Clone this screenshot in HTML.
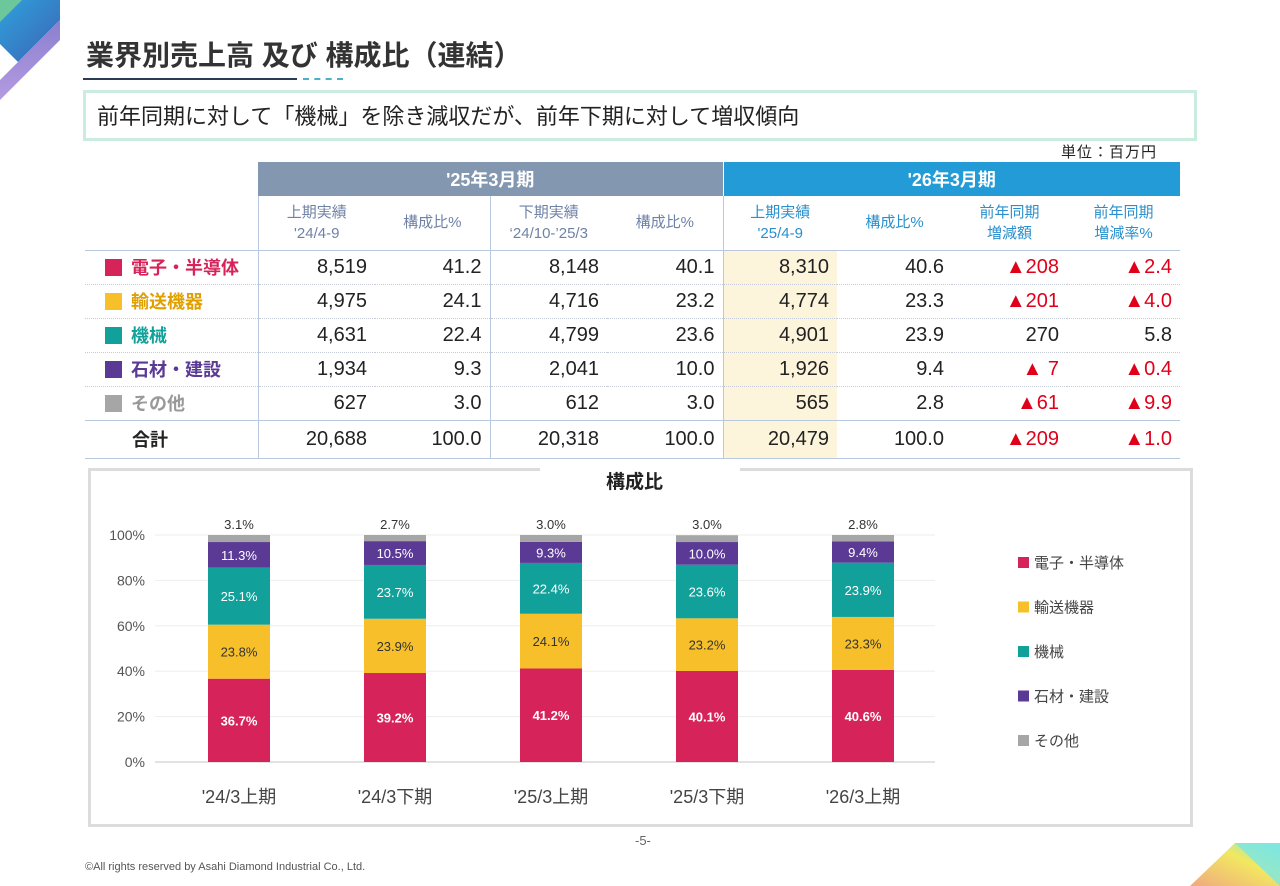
<!DOCTYPE html>
<html><head><meta charset="utf-8">
<style>
*{margin:0;padding:0;box-sizing:border-box}
body{width:1280px;height:886px;background:#fff;position:relative;overflow:hidden;font-family:"Liberation Sans","Noto Sans CJK JP",sans-serif;color:#222}
.abs{position:absolute}
table{border-collapse:collapse;table-layout:fixed;position:absolute;left:85px;top:162px}
td{font-size:20px;text-align:right;padding-right:8px;height:34px;border-bottom:1px dotted #c5ccd8}
td.l{text-align:left;padding-left:20px;font-weight:bold;font-size:18px}
.sq{display:inline-block;width:17px;height:17px;margin-right:9px;vertical-align:-2px}
.h1{color:#fff;font-weight:bold;text-align:center;font-size:18px;height:34px;padding:0;border:none}
.h2{font-size:15px;text-align:center;padding:0;height:54px;line-height:21px;border-bottom:1.5px solid #b8c8de}
.vl{border-left:1.5px solid #b8c8de}
.red{color:#e0001a}
.hl{background:#fdf4dc}
</style></head><body>
<svg class="abs" style="left:0;top:0" width="70" height="110">
<defs><linearGradient id="lg1" x1="0" y1="0" x2="1" y2="1"><stop offset="0" stop-color="#2fa0dc"/><stop offset="1" stop-color="#3c64b4"/></linearGradient>
<linearGradient id="lg2" x1="0" y1="0" x2="0" y2="1"><stop offset="0" stop-color="#8a7fd0"/><stop offset="1" stop-color="#b59be0"/></linearGradient></defs>
<polygon points="0,0 60,0 60,20 18,62 0,44" fill="url(#lg1)"/>
<polygon points="0,0 22,0 0,22" fill="#6cc79a"/>
<polygon points="18,62 60,20 60,40 0,100 0,80" fill="url(#lg2)"/>
</svg>
<div class="abs" style="left:86px;top:34px;font-size:28px;font-weight:bold;color:#333">業界別売上高 及び 構成比（連結）</div>
<div class="abs" style="left:83px;top:78px;width:214px;height:2px;background:#2b3a55"></div>
<div class="abs" style="left:303px;top:78px;width:40px;height:0;border-top:2px dashed #4bb0c8"></div>
<div class="abs" style="left:83px;top:90px;width:1114px;height:51px;border:3px solid #c9ecdf;font-size:22px;padding:6px 0 0 11px;color:#222">前年同期に対して「機械」を除き減収だが、前年下期に対して増収傾向</div>
<div class="abs" style="left:1061px;top:141px;font-size:15px;letter-spacing:1px">単位：百万円</div>

<table>
<colgroup><col style="width:173px"><col style="width:117px"><col style="width:115px"><col style="width:117px"><col style="width:116px"><col style="width:114px"><col style="width:115px"><col style="width:115px"><col style="width:113px"></colgroup>
<tr><td style="border:none"></td><td class="h1" colspan="4" style="background:#8497b0">'25年3月期</td><td class="h1" colspan="4" style="background:#229bd6;border-left:1px solid #fff">'26年3月期</td></tr>
<tr style="color:#6f82a6"><td style="border-bottom:1.5px solid #b8c8de"></td><td class="h2 vl">上期実績<br>'24/4-9</td><td class="h2">構成比%</td><td class="h2 vl">下期実績<br>‘24/10-’25/3</td><td class="h2">構成比%</td>
<td class="h2 vl" style="color:#2a8fcc">上期実績<br>'25/4-9</td><td class="h2" style="color:#2a8fcc">構成比%</td><td class="h2" style="color:#2a8fcc">前年同期<br>増減額</td><td class="h2" style="color:#2a8fcc">前年同期<br>増減率%</td></tr>
<tr><td class="l" style="color:#d6245a"><span class="sq" style="background:#d6245a"></span>電子・半導体</td><td class="vl">8,519</td><td>41.2</td><td class="vl">8,148</td><td>40.1</td><td class="vl hl">8,310</td><td>40.6</td><td class="red">▲208</td><td class="red">▲2.4</td></tr>
<tr><td class="l" style="color:#e0a000"><span class="sq" style="background:#f7c02a"></span>輸送機器</td><td class="vl">4,975</td><td>24.1</td><td class="vl">4,716</td><td>23.2</td><td class="vl hl">4,774</td><td>23.3</td><td class="red">▲201</td><td class="red">▲4.0</td></tr>
<tr><td class="l" style="color:#12a19a"><span class="sq" style="background:#12a19a"></span>機械</td><td class="vl">4,631</td><td>22.4</td><td class="vl">4,799</td><td>23.6</td><td class="vl hl">4,901</td><td>23.9</td><td>270</td><td>5.8</td></tr>
<tr><td class="l" style="color:#5b3a96"><span class="sq" style="background:#5b3a96"></span>石材・建設</td><td class="vl">1,934</td><td>9.3</td><td class="vl">2,041</td><td>10.0</td><td class="vl hl">1,926</td><td>9.4</td><td class="red">▲ 7</td><td class="red">▲0.4</td></tr>
<tr><td class="l" style="color:#999"><span class="sq" style="background:#a6a6a6"></span>その他</td><td class="vl">627</td><td>3.0</td><td class="vl">612</td><td>3.0</td><td class="vl hl">565</td><td>2.8</td><td class="red">▲61</td><td class="red">▲9.9</td></tr>
<tr style="border-top:1.5px solid #b8c8de"><td class="l" style="padding-left:47px;height:38px;border-bottom:1.5px solid #b8c8de">合計</td><td class="vl" style="border-bottom:1.5px solid #b8c8de">20,688</td><td style="border-bottom:1.5px solid #b8c8de">100.0</td><td class="vl" style="border-bottom:1.5px solid #b8c8de">20,318</td><td style="border-bottom:1.5px solid #b8c8de">100.0</td><td class="vl hl" style="border-bottom:1.5px solid #b8c8de">20,479</td><td style="border-bottom:1.5px solid #b8c8de">100.0</td><td class="red" style="border-bottom:1.5px solid #b8c8de">▲209</td><td class="red" style="border-bottom:1.5px solid #b8c8de">▲1.0</td></tr>
</table>

<div class="abs" style="left:88px;top:468px;width:1105px;height:359px;border:3px solid #dcdcdc"></div>
<div class="abs" style="left:540px;top:462px;width:200px;height:14px;background:#fff"></div>
<div class="abs" style="left:606px;top:467px;font-size:19px;font-weight:bold">構成比</div>
<svg id="chart" class="abs" style="left:0;top:0" width="1280" height="886"></svg>
<div class="abs" style="left:635px;top:833px;font-size:13px;color:#666">-5-</div>
<div class="abs" style="left:85px;top:861px;font-size:11px;color:#555">©All rights reserved by Asahi Diamond Industrial Co., Ltd.</div>
<svg class="abs" style="left:1190px;top:840px" width="90" height="46">
<defs><linearGradient id="lg3" x1="0" y1="1" x2="1" y2="0"><stop offset="0" stop-color="#f0a880"/><stop offset="0.6" stop-color="#f2e860"/><stop offset="1" stop-color="#7ee8e0"/></linearGradient></defs>
<polygon points="0,46 45,3 90,3 90,46" fill="url(#lg3)"/><polygon points="45,3 90,3 90,46" fill="#7ae6e4" opacity="0.8"/>
</svg>
<script>
const categories=["'24/3上期","'24/3下期","'25/3上期","'25/3下期","'26/3上期"];
const seriesNames=["電子・半導体","輸送機器","機械","石材・建設","その他"];
const colors=["#d6245a","#f7c02a","#12a19a","#5b3a96","#a6a6a6"];
const electronics=[36.7,39.2,41.2,40.1,40.6];
const transport=[23.8,23.9,24.1,23.2,23.3];
const machinery=[25.1,23.7,22.4,23.6,23.9];
const stone=[11.3,10.5,9.3,10.0,9.4];
const other=[3.1,2.7,3.0,3.0,2.8];
const yTicks=[0,20,40,60,80,100];
const series=[electronics,transport,machinery,stone,other];
const svg=document.getElementById('chart');
const NS='http://www.w3.org/2000/svg';
const y0=762,y1=535,x0=155,x1=935;
const y=v=>y0-(v/100)*(y0-y1);
const band=(x1-x0)/categories.length;
const xc=i=>x0+band*(i+0.5)+6;
function mk(t,a){const e=document.createElementNS(NS,t);for(const k in a)e.setAttribute(k,a[k]);svg.appendChild(e);return e;}
yTicks.forEach(t=>{
  const g=mk('line',{x1:x0,x2:x1,y1:y(t),y2:y(t),stroke:t===0?'#d9d9d9':'#eeeeee','stroke-width':t===0?1.5:1});
  
  
  const l=mk('text',{x:145,y:y(t)+5,'text-anchor':'end','font-size':14,fill:'#555'});
  l.textContent=t+'%';
  
  
});
categories.forEach((c,i)=>{
  let acc=0;const bw=62;
  series.forEach((s,j)=>{
    const v=s[i];const top=y(acc+v),bot=y(acc);
    const r=mk('rect',{x:xc(i)-bw/2,y:top,width:bw,height:bot-top,fill:colors[j]});
    
    
    const t=mk('text',{'text-anchor':'middle','font-size':13});
    
    
    if(j===4){t.setAttribute('x',xc(i));t.setAttribute('y',top-6);t.setAttribute('fill','#333');}
    else{t.setAttribute('x',xc(i));t.setAttribute('y',(top+bot)/2+5);t.setAttribute('fill',j===1?'#333':'#fff');if(j===0)t.setAttribute('font-weight','bold');}
    t.textContent=v.toFixed(1)+'%';
    acc+=v;
  });
  const xl=mk('text',{x:xc(i),y:803,'text-anchor':'middle','font-size':18,fill:'#444'});
  xl.textContent=c;
  
  
});
seriesNames.forEach((n,j)=>{
  const yy=562+j*44.5;
  const r=mk('rect',{x:1018,y:yy-5,width:11,height:11,fill:colors[j]});
  
  
  const t=mk('text',{x:1034,y:yy+6,'font-size':15,fill:'#444'});
  t.textContent=n;
  
  
});
</script>
</body></html>
